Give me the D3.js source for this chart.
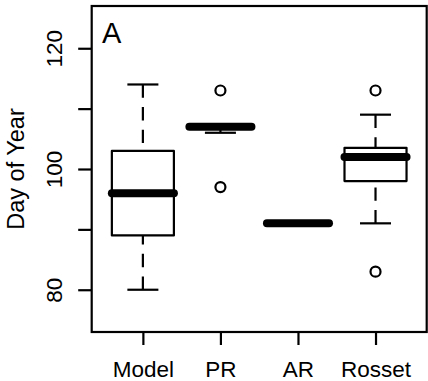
<!DOCTYPE html>
<html>
<head>
<meta charset="utf-8">
<script src="https://cdn.jsdelivr.net/npm/d3@7"></script>
<style>
  body { margin: 0; background: #fff; }
  text { font-family: "Liberation Sans", Arial, sans-serif; fill: #000; }
</style>
</head>
<body>
<div id="chart"></div>
<script>
// groups and their box stats: [lower whisker, Q1, median, Q3, upper whisker]
const groups = ['Model', 'PR', 'AR', 'Rosset'];
const lowWhisker = [80, 106, 91, 91];
const q1 = [89, 107, 91, 98];
const medians = [96, 107, 91, 102];
const q3 = [103, 107.25, 91, 103.5];
const highWhisker = [114, 107.25, 91, 109];
const outliers = [[], [113, 97], [], [113, 83]];
const yTicks = [80, 90, 100, 110, 120];
const yTickLabels = ['80', '', '100', '', '120'];

const width = 428, height = 381;
const margin = { top: 6, right: 1.3, bottom: 49, left: 91.7 };

const svg = d3.select('#chart').append('svg')
  .attr('width', width)
  .attr('height', height);

const x = d3.scaleLinear().domain([0.34, 4.66]).range([margin.left, width - margin.right]);
const y = d3.scaleLinear().domain([73, 127]).range([height - margin.bottom, margin.top]);

const boxW = x(1.4) - x(1);   // half of boxwex 0.8
const capW = boxW / 2;

const data = groups.map((g, i) => ({
  name: g, pos: i + 1,
  lw: lowWhisker[i], q1: q1[i], med: medians[i], q3: q3[i], hw: highWhisker[i],
  out: outliers[i]
}));

const box = svg.append('g').selectAll('g').data(data).join('g');

// whiskers, drawn from the end towards the box
box.append('line')
  .attr('x1', d => x(d.pos)).attr('x2', d => x(d.pos))
  .attr('y1', d => y(d.hw)).attr('y2', d => y(d.q3))
  .attr('stroke', '#000').attr('stroke-width', 2.2)
  .attr('stroke-dasharray', '13.3,9.3');
box.append('line')
  .attr('x1', d => x(d.pos)).attr('x2', d => x(d.pos))
  .attr('y1', d => y(d.lw)).attr('y2', d => y(d.q1))
  .attr('stroke', '#000').attr('stroke-width', 2.2)
  .attr('stroke-dasharray', '13.3,9.3');

// caps
box.append('line')
  .attr('x1', d => x(d.pos) - capW).attr('x2', d => x(d.pos) + capW)
  .attr('y1', d => y(d.hw)).attr('y2', d => y(d.hw))
  .attr('stroke', '#000').attr('stroke-width', 2.2);
box.append('line')
  .attr('x1', d => x(d.pos) - capW).attr('x2', d => x(d.pos) + capW)
  .attr('y1', d => y(d.lw)).attr('y2', d => y(d.lw))
  .attr('stroke', '#000').attr('stroke-width', 2.2);

box.append('rect')
  .attr('x', d => x(d.pos) - boxW)
  .attr('width', 2 * boxW)
  .attr('y', d => y(d.q3))
  .attr('height', d => y(d.q1) - y(d.q3))
  .attr('fill', '#fff')
  .attr('stroke', '#000').attr('stroke-width', 2.2)
  .attr('stroke-linejoin', 'round');

box.append('line')
  .attr('x1', d => x(d.pos) - boxW).attr('x2', d => x(d.pos) + boxW)
  .attr('y1', d => y(d.med)).attr('y2', d => y(d.med))
  .attr('stroke', '#000').attr('stroke-width', 8)
  .attr('stroke-linecap', 'round');

box.selectAll('circle').data(d => d.out.map(v => ({ pos: d.pos, v })))
  .join('circle')
  .attr('cx', d => x(d.pos))
  .attr('cy', d => y(d.v))
  .attr('r', 5)
  .attr('fill', 'none')
  .attr('stroke', '#000').attr('stroke-width', 2.2);

// frame
svg.append('rect')
  .attr('x', margin.left).attr('y', margin.top)
  .attr('width', width - margin.right - margin.left)
  .attr('height', height - margin.bottom - margin.top)
  .attr('fill', 'none')
  .attr('stroke', '#000').attr('stroke-width', 2.2);

// y axis
const yAxis = d3.axisLeft(y)
  .tickValues(yTicks)
  .tickSize(13.5)
  .tickPadding(0)
  .tickFormat((d, i) => yTickLabels[i]);
const yg = svg.append('g')
  .attr('transform', `translate(${margin.left},0)`)
  .call(yAxis);
yg.select('.domain').remove();
yg.selectAll('.tick line').attr('stroke', '#000').attr('stroke-width', 2.2);
yg.selectAll('.tick text')
  .attr('x', 0).attr('y', 0)
  .attr('dy', 0)
  .attr('transform', `translate(${62.3 - margin.left},0) rotate(-90)`)
  .attr('text-anchor', 'middle')
  .style('font-size', '22.5px');

// x axis
const xAxis = d3.axisBottom(x)
  .tickValues(groups.map((g, i) => i + 1))
  .tickSize(13)
  .tickFormat((d, i) => groups[i]);
const xg = svg.append('g')
  .attr('transform', `translate(0,${height - margin.bottom})`)
  .call(xAxis);
xg.select('.domain').remove();
xg.selectAll('.tick line').attr('stroke', '#000').attr('stroke-width', 2.2);
xg.selectAll('.tick text')
  .attr('y', 44.7).attr('dy', 0)
  .style('font-size', '22.5px');

// y title
svg.append('text')
  .attr('transform', `translate(23.5,${y(100)}) rotate(-90)`)
  .attr('text-anchor', 'middle')
  .style('font-size', '23.5px')
  .text('Day of Year');

// panel letter
svg.append('text')
  .attr('x', 102).attr('y', 42.7)
  .style('font-size', '29px')
  .text('A');
</script>
</body>
</html>
